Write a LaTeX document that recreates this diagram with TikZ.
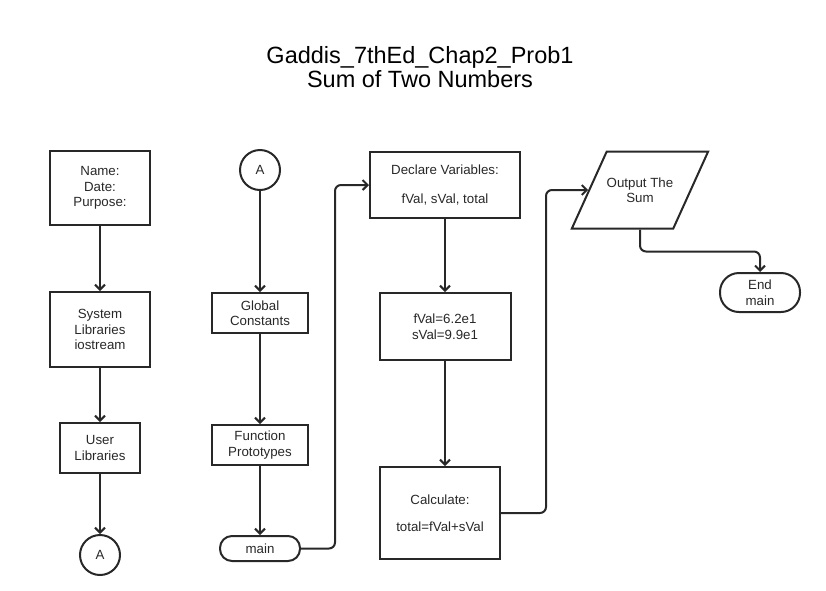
\documentclass[tikz,border=0pt]{standalone}
\usepackage{fontspec}
\setmainfont{Liberation Sans}
\usepackage{tikz}
\usetikzlibrary{arrows.meta, positioning, shapes.geometric}
\definecolor{corLinha}{RGB}{40,40,40}

\begin{document}
\begin{tikzpicture}[x=1pt, y=-1pt, every node/.style={font=\fontsize{13.3}{15.5}\selectfont, text=corLinha}]
    \tikzstyle{caixa}=[rectangle, draw=corLinha, line width=2pt, align=center, inner sep=2pt]
    \tikzstyle{conector}=[circle, draw=corLinha, line width=2pt, minimum size=40pt, inner sep=0pt]
    \tikzstyle{terminal}=[rectangle, rounded corners=12pt, draw=corLinha, line width=2pt, align=center, inner sep=2pt]
    \tikzstyle{saida}=[trapezium, trapezium left angle=40, trapezium right angle=140, trapezium stretches body=true,
      draw=corLinha, line width=2pt, align=center, inner xsep=0pt, inner ysep=2pt]
    \tikzstyle{seta}=[-{Straight Barb[length=5pt, width=10pt, line width=2pt]}, line width=2pt, draw=corLinha]
    \useasboundingbox (0,0) rectangle (826,590);
    \node[font=\fontsize{23.5}{23.5}\selectfont, align=center, text=black] (t) at (420,67) {Gaddis\_7thEd\_Chap2\_Prob1\\Sum of Two Numbers};
    % primeira coluna
    \node[caixa, minimum width=100pt, minimum height=74pt] (a) at (100,188) {Name:\\Date:\\Purpose:};
    \node[caixa, minimum width=100pt, minimum height=75pt, below=65pt of a] (b) {System\\Libraries\\iostream};
    \node[caixa, minimum width=80pt, minimum height=50pt, below=54pt of b] (c) {User\\Libraries};
    \node[conector, below=60pt of c] (d) {A};
    % segunda coluna
    \node[conector] (e) at (260,170) {A};
    \node[caixa, minimum width=96pt, minimum height=40pt, below=101pt of e] (f) {Global\\Constants};
    \node[caixa, minimum width=96pt, minimum height=40pt, below=90pt of f] (g) {Function\\Prototypes};
    \node[terminal, minimum width=80pt, minimum height=25pt, below=69pt of g] (h) {main};
    % terceira coluna
    \node[caixa, minimum width=150pt, minimum height=66pt] (i) at (445,185) {Declare Variables:\\[13pt]fVal, sVal, total};
    \node[caixa, minimum width=131pt, minimum height=67pt, below=73pt of i] (j) {fVal=6.2e1\\sVal=9.9e1};
    \node[caixa, minimum width=120pt, minimum height=92pt, below=105pt of j, xshift=-5pt] (k) {Calculate:\\[12pt]total=fVal+sVal};
    % saida
    \node[saida, minimum width=134pt, minimum height=77pt] (l) at (640,190) {Output The\\Sum};
    \node[terminal, rounded corners=19pt, minimum width=80pt, minimum height=39pt] (m) at (760,292.5) {End\\main};
    \draw[seta] (a) -- (b);
    \draw[seta] (b) -- (c);
    \draw[seta] (c) -- (d);
    \draw[seta] (e) -- (f);
    \draw[seta] (f) -- (g);
    \draw[seta] (g) -- (h);
    \draw[seta, rounded corners=6pt] (h.east) -- ++(34,0) |- (i.west);
    \draw[seta] (i) -- (j);
    \draw[seta] (j.south) -- (j.south |- k.north);
    \draw[seta, rounded corners=6pt] (k.east) -- ++(45,0) |- (l.left side);
    \draw[seta, rounded corners=6pt] (l.south) -- ++(0,22) -| (m.north);
  \end{tikzpicture}
\end{document}
